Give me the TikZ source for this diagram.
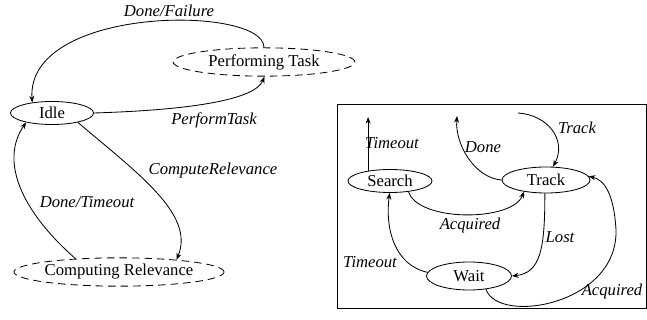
\documentclass[tikz,border=0pt]{standalone}
\usepackage{fontspec}
\setmainfont{Liberation Serif}
\usetikzlibrary{arrows.meta,shapes.geometric}
\begin{document}
\begin{tikzpicture}[x=0.6pt,y=-0.6pt,
  st/.style={ellipse,draw,line width=0.5pt,inner sep=0pt,font=\fontsize{10}{12}\selectfont},
  dst/.style={st,dash pattern=on 4.5pt off 3pt},
  tr/.style={line width=0.5pt,-{Stealth[length=4pt,width=3pt]}},
  lb/.style={font=\fontsize{10}{12}\selectfont\itshape,inner sep=0pt}]
\useasboundingbox (0,0) rectangle (647,320);
% left diagram
\node[st,minimum width=49.8pt,minimum height=13.8pt] (idle) at (52,113) {Idle};
\node[dst,minimum width=109pt,minimum height=17pt] (pt) at (264,62) {Performing Task};
\node[dst,minimum width=109pt,minimum height=17pt] (cr) at (119,272) {Computing Relevance};
\draw[tr] (pt.90) .. controls (264,5) and (26,5) .. (idle.152);
\node[lb] (l1) at (169,11) {Done/Failure};
\draw[tr] (idle.0) .. controls (190,110) and (255,100) .. (pt.272);
\node[lb] (l2) at (214,120) {PerformTask};
\draw[tr] (idle.340) .. controls (140,175) and (195,215) .. (cr.12);
\node[lb] (l3) at (213,170) {ComputeRelevance};
\draw[tr] (cr.163) .. controls (20,210) and (0,160) .. (idle.200);
\node[lb] (l4) at (87,202) {Done/Timeout};
% right diagram
\node[draw,line width=0.5pt,minimum width=185.4pt,minimum height=122.4pt,inner sep=0pt] (box) at (491.5,206) {};
\node[st,minimum width=50.4pt,minimum height=13.8pt] (search) at (390,181) {Search};
\node[st,minimum width=52.8pt,minimum height=15.6pt] (track) at (546,180) {Track};
\node[st,minimum width=51pt,minimum height=16.8pt] (wait) at (469,276) {Wait};
\coordinate (c1) at (361,117);
\coordinate (c2) at (457,116);
\coordinate (c3) at (518,113);
\coordinate (c4) at (616,230);
\draw[tr] (search.155) -- (search.155 |- c1);
\node[lb] (l5) at (392,143) {Timeout};
\draw[tr] (track.180) .. controls (475,178) and (455,145) .. (c2);
\node[lb] (l6) at (483,147) {Done};
\draw[tr] (c3) .. controls (548,115) and (567,140) .. (track.62);
\node[lb] (l7) at (577,128) {Track};
\draw[tr] (search.330) .. controls (418,222) and (512,222) .. (track.208);
\node[lb] (l8) at (470,225) {Acquired};
\draw[tr] (track.265) .. controls (545,250) and (540,273) .. (wait.0);
\node[lb] (l9) at (560,237) {Lost};
\draw[tr] (wait.175) .. controls (395,265) and (385,230) .. (search.268);
\node[lb] (l10) at (370,262) {Timeout};
\draw[tr] (wait.322) .. controls (498,325) and (618,305) .. (c4) .. controls (614,195) and (605,180) .. (track.5);
\node[lb] (l11) at (612,291) {Acquired};
\end{tikzpicture}
\end{document}
